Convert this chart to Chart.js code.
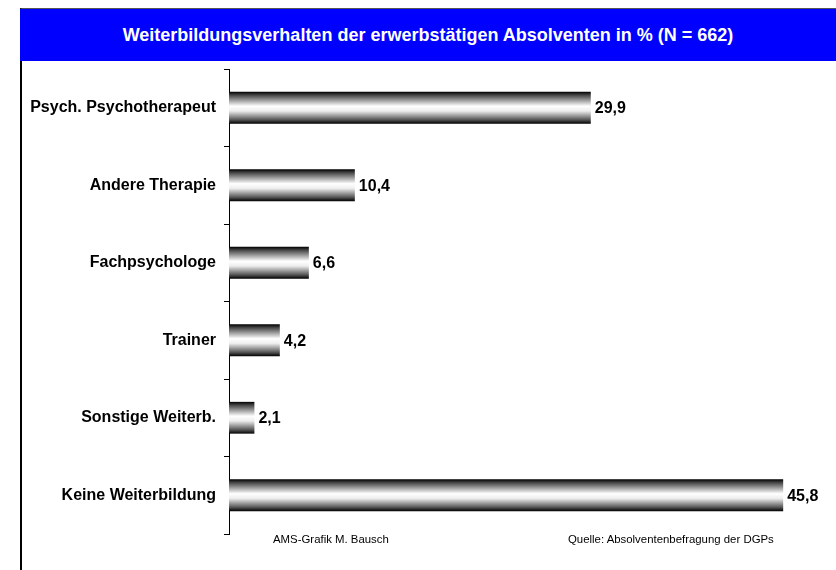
<!DOCTYPE html>
<html>
<head>
<meta charset="utf-8">
<script src="https://cdn.jsdelivr.net/npm/chart.js@4"></script>
<style>
  body { margin:0; background:#fff; font-family:"Liberation Sans", Arial, sans-serif; }
  #frame { position:absolute; left:20px; top:8px; width:816px; height:562px; border-top:1px solid #555; border-left:2px solid #000; }
  #head { position:absolute; left:20px; top:9px; width:816px; height:52px; background:#0000ff; color:#fff;
          font-weight:bold; font-size:18px; line-height:52px; text-align:center; }
  #wrap { position:absolute; left:22px; top:62px; width:814px; height:508px; }
  .note { position:absolute; top:533px; font-size:11.4px; color:#000; }
</style>
</head>
<body>
<div id="frame"></div>
<div id="head">Weiterbildungsverhalten der erwerbstätigen Absolventen in % (N = 662)</div>
<div id="wrap"><canvas id="chart"></canvas></div>
<div class="note" style="left:273px">AMS-Grafik M. Bausch</div>
<div class="note" style="left:568px">Quelle: Absolventenbefragung der DGPs</div>
<script>
// Weiterbildung der erwerbstaetigen Absolventen
const categories = ['Psych. Psychotherapeut', 'Andere Therapie', 'Fachpsychologe', 'Trainer', 'Sonstige Weiterb.', 'Keine Weiterbildung'];
const percents = [29.9, 10.4, 6.6, 4.2, 2.1, 45.8];

const barPct = 0.41;

// cylinder look: dark edges, white middle
function barGradient(c) {
  const chart = c.chart;
  const ys = chart.scales.y;
  if (!ys || c.dataIndex === undefined) return '#888';
  const cy = ys.getPixelForValue(c.dataIndex);
  const h = ys.height / categories.length * barPct;
  if (!isFinite(cy) || !isFinite(h) || h <= 0) return '#888';
  const g = chart.ctx.createLinearGradient(0, cy - h/2, 0, cy + h/2);
  g.addColorStop(0, '#000');
  g.addColorStop(0.1, '#444');
  g.addColorStop(0.45, '#fff');
  g.addColorStop(0.6, '#eee');
  g.addColorStop(0.88, '#555');
  g.addColorStop(1, '#000');
  return g;
}

const valueLabels = {
  id: 'valueLabels',
  afterDatasetsDraw(chart) {
    const ctx = chart.ctx;
    const meta = chart.getDatasetMeta(0);
    ctx.save();
    ctx.font = 'bold 16px "Liberation Sans", Arial, sans-serif';
    ctx.fillStyle = '#000';
    ctx.textBaseline = 'middle';
    ctx.textAlign = 'left';
    meta.data.forEach((bar, i) => {
      ctx.fillText(percents[i].toFixed(1).replace('.', ','), bar.x + 4, bar.y + 1);
    });
    ctx.restore();
  }
};

new Chart(document.getElementById('chart'), {
  type: 'bar',
  data: {
    labels: categories,
    datasets: [{ data: percents, backgroundColor: barGradient, borderWidth: 0, barPercentage: barPct, categoryPercentage: 1 }]
  },
  options: {
    indexAxis: 'y',
    responsive: true,
    maintainAspectRatio: false,
    animation: false,
    layout: { padding: { top: 7, bottom: 36, right: 2 } },
    plugins: { legend: { display: false }, tooltip: { enabled: false } },
    scales: {
      x: { display: false, min: 0, max: 50 },
      y: {
        afterFit(s) { s.width = 207; s.paddingTop = 0; s.paddingBottom = 0; },
        border: { display: true, color: '#000', width: 1 },
        grid: { offset: true, drawOnChartArea: false, drawTicks: true, tickLength: 5, color: '#000' },
        ticks: { padding: 8, color: '#000', font: { family: '"Liberation Sans", Arial, sans-serif', size: 16, weight: 'bold' } }
      }
    }
  },
  plugins: [valueLabels]
});
</script>
</body>
</html>
